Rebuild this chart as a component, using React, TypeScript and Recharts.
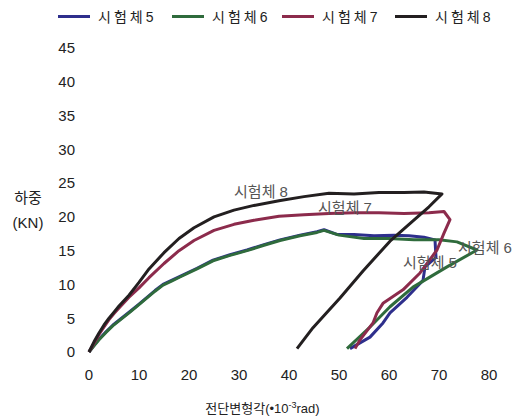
import { LineChart, Line, XAxis, YAxis, ReferenceDot } from "recharts";

// 시험체5 (blue)
const s5X = [0, 1, 2, 3.4, 4.8, 6.5, 8.2, 10, 11.6, 13.2, 14.8, 16.5, 18.2, 21.6, 24.8, 28.2, 31.6, 35, 38.2, 42.2, 45.6, 47, 49.6, 53, 57, 61, 64, 67, 69.2, 69.4, 67.2, 66.8, 63.6, 60.2, 58.8, 56.2, 52.2];
const s5Y = [0, 1, 1.9, 3, 4, 5, 6, 7.1, 8.1, 9.1, 10, 10.6, 11.2, 12.4, 13.6, 14.4, 15.1, 15.9, 16.6, 17.3, 17.8, 18.1, 17.4, 17.4, 17.2, 17.3, 17.2, 17.0, 16.6, 14, 12.6, 10.6, 8.1, 5.8, 4.3, 2.2, 0.5];
// 시험체6 (green)
const s6X = [0, 1, 2, 3.4, 4.8, 6.5, 8.2, 10, 11.6, 13.2, 14.8, 16.5, 18.2, 21.6, 24.8, 28.2, 31.6, 35, 38.2, 42.2, 45.6, 47, 50, 55, 60, 65, 70, 73.6, 77.6, 71.6, 64.8, 60.2, 56.2, 51.6];
const s6Y = [0, 0.9, 1.8, 2.9, 3.9, 4.9, 5.9, 7, 8, 9, 9.9, 10.5, 11.1, 12.3, 13.5, 14.3, 15.0, 15.8, 16.5, 17.2, 17.7, 18.0, 17.3, 16.8, 16.8, 16.6, 16.6, 16.3, 15.1, 12.6, 9.6, 6.7, 3.7, 0.5];
// 시험체7 (red)
const s7X = [0, 1, 2, 3, 4, 5, 6, 8, 10, 12, 15, 18, 21, 25, 29, 33, 38, 43, 48, 53, 58, 63, 68, 71, 72.2, 71, 69.6, 66.2, 62.8, 58.8, 57.6, 56.8, 54.2, 53.2];
const s7Y = [0, 1.3, 2.6, 3.7, 4.8, 5.7, 6.5, 8.1, 9.5, 11, 13.1, 15, 16.5, 18, 18.9, 19.5, 20.1, 20.3, 20.5, 20.6, 20.6, 20.5, 20.6, 20.8, 19.6, 17.6, 15.1, 11.7, 9.2, 7.2, 5.8, 4.3, 1.8, 0.5];
// 시험체8 (black)
const s8X = [0, 1, 2, 3, 4, 5, 6, 8, 10, 12, 15, 18, 21, 25, 29, 33, 38, 43, 48, 53, 58, 63, 67, 70.6, 68, 64.8, 60.2, 54.8, 50.2, 44.8, 41.6];
const s8Y = [0, 1.5, 2.8, 4, 5, 5.9, 6.8, 8.4, 10.3, 12.3, 14.7, 16.8, 18.4, 20, 21, 21.7, 22.4, 23, 23.5, 23.4, 23.6, 23.6, 23.7, 23.4, 21.5, 19.4, 16.4, 12, 8, 3.6, 0.5];

const xTicks = [0, 10, 20, 30, 40, 50, 60, 70, 80];
const yTicks = [0, 5, 10, 15, 20, 25, 30, 35, 40, 45];

const names = ["시험체5", "시험체6", "시험체7", "시험체8"];
const colors = ["#2e2f8c", "#2f6b3c", "#8c2b4c", "#231f20"];

const zip = (xs: number[], ys: number[]) => xs.map((x, i) => ({ x, y: ys[i] }));
const series = [zip(s5X, s5Y), zip(s6X, s6Y), zip(s7X, s7Y), zip(s8X, s8Y)];

// in-plot annotations (data coordinates)
const notes = [
  { text: "시험체 8", x: 34.4, y: 23.7 },
  { text: "시험체 7", x: 51.2, y: 21.4 },
  { text: "시험체 6", x: 79.2, y: 15.5 },
  { text: "시험체 5", x: 68.2, y: 13.2 },
];

const legendLeft = [58, 172, 282, 395];

const font = "'Liberation Sans', Arial, 'Noto Sans CJK KR', sans-serif";

export default function App() {
  return (
    <div style={{ position: "absolute", left: 0, top: 0, width: 514, height: 418, background: "#fff", fontFamily: font }}>
      <LineChart width={514} height={418} margin={{ top: 48, right: 25, bottom: 36, left: 39 }}>
        <XAxis
          type="number"
          dataKey="x"
          domain={[0, 80]}
          ticks={xTicks}
          axisLine={false}
          tickLine={false}
          tickSize={0}
          tickMargin={17}
          height={30}
          tick={{ fontSize: 15, fill: "#222", fontFamily: font }}
        />
        <YAxis
          type="number"
          dataKey="y"
          domain={[0, 45]}
          ticks={yTicks}
          axisLine={false}
          tickLine={false}
          tickSize={0}
          tickMargin={14}
          width={50}
          tick={{ fontSize: 15, fill: "#222", fontFamily: font }}
        />
        {series.map((d, i) => (
          <Line
            key={names[i]}
            data={d}
            dataKey="y"
            type="linear"
            stroke={colors[i]}
            strokeWidth={3}
            strokeLinejoin="round"
            dot={false}
            isAnimationActive={false}
          />
        ))}
        {notes.map((n) => (
          <ReferenceDot
            key={n.text}
            x={n.x}
            y={n.y}
            r={0}
            fill="none"
            stroke="none"
            label={{ value: n.text, position: "center", fill: "#555", fontSize: 15, fontFamily: font }}
          />
        ))}
      </LineChart>

      {/* legend */}
      {names.map((n, i) => (
        <div
          key={n}
          style={{ position: "absolute", top: 6, left: legendLeft[i], display: "flex", alignItems: "center", fontSize: 14, color: "#222", letterSpacing: 3, whiteSpace: "nowrap" }}
        >
          <span style={{ display: "inline-block", width: 32, height: 3, background: colors[i], marginRight: 8 }} />
          <span>{n}</span>
        </div>
      ))}

      {/* axis titles */}
      <div style={{ position: "absolute", left: 8, top: 185, width: 40, textAlign: "center", fontSize: 15, color: "#222", lineHeight: "25px" }}>
        하중
        <br />
        (KN)
      </div>
      <div style={{ position: "absolute", left: 180, top: 398, width: 165, textAlign: "center", fontSize: 13, color: "#222" }}>
        전단변형각(•10<sup style={{ fontSize: 9 }}>-3</sup>rad)
      </div>
    </div>
  );
}
